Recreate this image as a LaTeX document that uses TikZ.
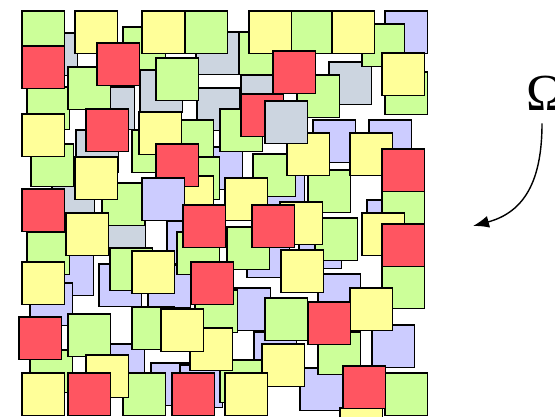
\documentclass[tikz,border=0pt]{standalone}
\usepackage{fontspec}
\setmainfont{Liberation Serif}
\usepackage{tikz}
\usetikzlibrary{arrows.meta}
\definecolor{tileR}{HTML}{FF5561}
\definecolor{tileY}{HTML}{FFFF99}
\definecolor{tileG}{HTML}{CCFF99}
\definecolor{tileL}{HTML}{CCCCFF}
\definecolor{tileB}{HTML}{CCD5E0}

\begin{document}
\begin{tikzpicture}[x=1pt, y=-1pt, >=Latex,
    tile/.style={draw=black, line width=1.9pt, fill=#1}]
\useasboundingbox (0,0) rectangle (555,416);
\begin{scope}
    % Grey tiles at the bottom of the pile.
    \foreach \c/\x/\y in {B/35/33,B/196/32,B/92/87,B/140/70,B/241/75,B/197/88,B/329/62,B/76/130,B/52/170,B/103/210}{
        \draw[tile=tile\c] (\x,\y) rectangle +(42.5,42.5);
    }
    % Lavender tiles, mostly covered.
    \foreach \c/\x/\y in {L/262/162,L/167/221,L/200/147,L/299/226,L/318/274,L/313/120,L/369/120,L/367/200,
        L/51/253,L/30/283,L/99/264,L/148/265,L/247/235,L/228/288,L/254/332,L/102/344,L/151/363,L/180/365,
        L/372/325,L/300/368,L/385/11}{
        \draw[tile=tile\c] (\x,\y) rectangle +(42.5,42.5);
    }
    % Green tiles.
    \foreach \c/\x/\y in {G/22/11,G/123/27,G/185/11,G/239/32,G/290/11,G/27/87,G/68/67,G/362/24,G/385/72,
        G/156/58,G/132/130,G/171/120,G/177/157,G/220/109,G/253/154,G/308/170,G/382/182,G/297/75,G/315/218,
        G/382/266,G/102/183,G/31/144,G/27/232,G/110/248,G/177/232,G/227/227,G/195/290,G/265/298,G/132/307,
        G/30/350,G/68/314,G/318/332,G/220/360,G/123/373,G/385/373}{
        \draw[tile=tile\c] (\x,\y) rectangle +(42.5,42.5);
    }
    % Top layer: red and yellow tiles (plus a few others on top).
    \foreach \c/\x/\y in {R/22/46,Y/75/11,Y/142/11,Y/249/11,Y/332/11,Y/382/53,R/97/43,R/273/51,R/241/94,
        Y/22/114,R/86/109,Y/75/157,Y/139/112,Y/171/176,R/156/144,L/142/178,R/22/189,Y/287/133,B/265/101,
        Y/350/133,R/382/149,Y/225/178,R/183/205,Y/280/202,R/252/205,Y/362/213,R/382/224,Y/66/213,Y/22/262,
        Y/132/251,Y/281/250,R/191/262,Y/350/288,R/19/317,Y/190/328,Y/161/309,R/308/302,Y/262/344,Y/86/355,
        Y/340/408,R/343/366,Y/22/373,R/68/373,R/172/373,Y/225/373}{
        \draw[tile=tile\c] (\x,\y) rectangle +(42.5,42.5);
    }
\end{scope}
% Domain label.
\node[font=\fontsize{52}{52}\selectfont, inner sep=0pt] (omega) at (546,93) {Ω};
\coordinate (tip) at (473,226);
\draw[-{Latex[length=16pt,width=12pt]}, line width=1.4pt]
    ([xshift=-4pt,yshift=-13pt]omega.south) .. controls (542,180) and (525,212) .. (tip);
\end{tikzpicture}
\end{document}
